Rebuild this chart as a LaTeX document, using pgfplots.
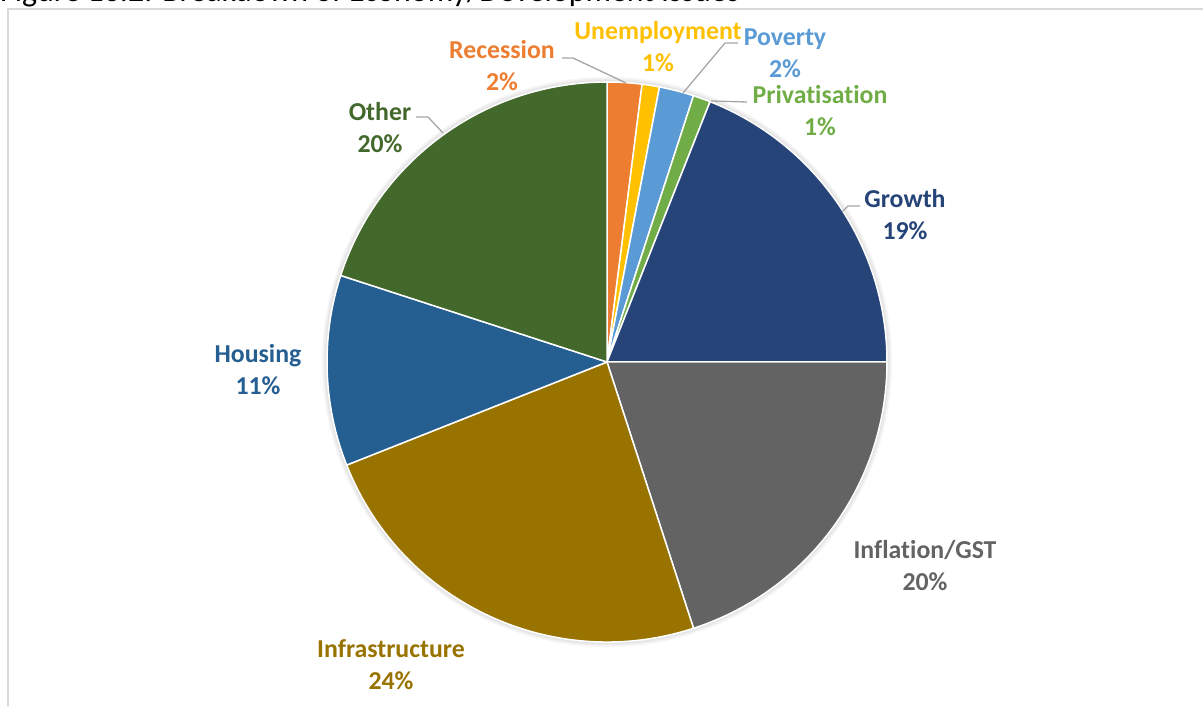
\documentclass[border=0pt]{standalone}
\usepackage{pgfplots}
\pgfplotsset{compat=1.18}
\usepackage{pgfplotstable}
\usepackage{fontspec}
\setmainfont{Carlito}[Ligatures={NoCommon}]
\definecolor{pie0}{HTML}{ED7D31}
\definecolor{pie1}{HTML}{FFC000}
\definecolor{pie2}{HTML}{5B9BD5}
\definecolor{pie3}{HTML}{70AD47}
\definecolor{pie4}{HTML}{264478}
\definecolor{pie5}{HTML}{636363}
\definecolor{pie6}{HTML}{997300}
\definecolor{pie7}{HTML}{255E91}
\definecolor{pie8}{HTML}{43682B}
\definecolor{leader}{HTML}{A6A6A6}
\definecolor{framec}{HTML}{D9D9D9}

\pgfplotstableread{
name value
Recession 2
Unemployment 1
Poverty 2
Privatisation 1
Growth 19
Inflation/GST 20
Infrastructure 24
Housing 11
Other 20
}\piedata

\newcommand{\lblfont}{\fontsize{25.9}{31}\selectfont\bfseries}
\newcommand{\pielabel}[5]{%
  \node[anchor=base, text=#1, font=\lblfont, inner sep=0pt] at (axis cs:#2,#3) {#4};
  \node[anchor=base, text=#1, font=\lblfont, inner sep=0pt] at (axis cs:#2,#3-32) {#5};
}

\begin{document}
\begin{tikzpicture}[x=1bp,y=1bp]
\useasboundingbox (0,0) rectangle (1203,706);
\clip (0,0) rectangle (1203,706);
\def\cum{0}
\pgfplotsforeachungrouped \i in {0,...,8}{%
  \pgfplotstablegetelem{\i}{value}\of\piedata
  \let\pieVal\pgfplotsretval
  \pgfmathsetmacro\pieStart{90-3.6*\cum}%
  \pgfmathsetmacro\cum{\cum+\pieVal}%
  \pgfmathsetmacro\pieEnd{90-3.6*\cum}%
  \expandafter\xdef\csname pieA\i\endcsname{\pieStart}%
  \expandafter\xdef\csname pieB\i\endcsname{\pieEnd}%
}
\begin{axis}[at={(0,0)}, anchor=south west, x=1bp, y=1bp,
  xmin=0, xmax=1203, ymin=0, ymax=706, hide axis, clip=false]
% frame
\draw[framec, line width=1.4bp] (axis cs:8,0) -- (axis cs:8,697) -- (axis cs:1210,697);
% title (cut off at top, as in the reference)
\node[anchor=base west, font=\fontsize{32}{38}\selectfont, text=black, inner sep=0pt] at (axis cs:0,704) {Figure 13.2: Breakdown of Economy/Development Issues};
% soft shadow
\fill[black, opacity=0.035] (axis cs:607,344) circle[radius=285bp];
\fill[black, opacity=0.035] (axis cs:607,344) circle[radius=283.5bp];
\fill[black, opacity=0.04] (axis cs:607,344) circle[radius=282bp];
% wedges
\pgfplotsinvokeforeach{0,...,8}{%
  \edef\tmp{\noexpand\fill[fill=pie#1, draw=white, line width=1.5bp, line join=round]
    (axis cs:607,344) -- (axis cs:{607+280*cos(\csname pieA#1\endcsname)},{344+280*sin(\csname pieA#1\endcsname)})
    arc[start angle=\csname pieA#1\endcsname, end angle=\csname pieB#1\endcsname, radius=280bp] -- cycle;}%
  \tmp
}
% leader lines
\draw[leader, line width=1.3bp] (axis cs:562,648) -- (axis cs:573,648) -- (axis cs:626,623);
\draw[leader, line width=1.3bp] (axis cs:738,663) -- (axis cs:725,663) -- (axis cs:683,613);
\draw[leader, line width=1.3bp] (axis cs:711,605) -- (axis cs:747,604);
\draw[leader, line width=1.3bp] (axis cs:416,589) -- (axis cs:428,589) -- (axis cs:443,573);
\draw[leader, line width=1.3bp] (axis cs:860,500) -- (axis cs:848,500) -- (axis cs:842,494);
% labels
\pielabel{pie0}{502}{647}{Recession}{2\%}
\pielabel{pie1}{658}{666}{Unemployment}{1\%}
\pielabel{pie2}{785}{660}{Poverty}{2\%}
\pielabel{pie3}{820}{602}{Privatisation}{1\%}
\pielabel{pie4}{905}{498}{Growth}{19\%}
\pielabel{pie5}{925}{147}{Inflation/GST}{20\%}
\pielabel{pie6}{391}{48}{Infrastructure}{24\%}
\pielabel{pie7}{258}{343}{Housing}{11\%}
\pielabel{pie8}{380}{585}{Other}{20\%}
\end{axis}
\end{tikzpicture}
\end{document}
